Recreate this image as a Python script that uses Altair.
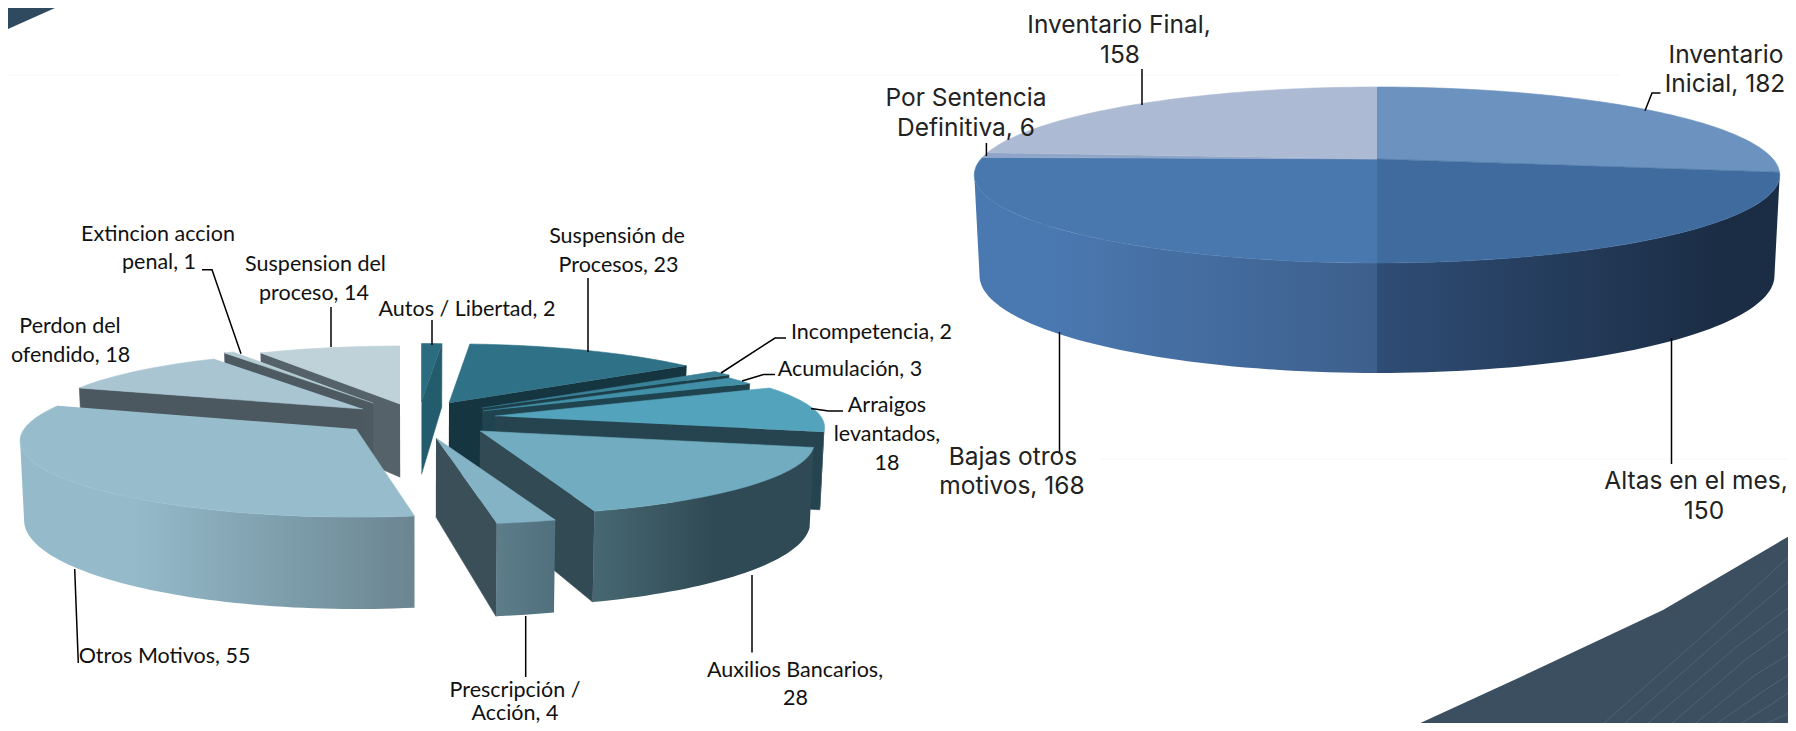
import numpy as np
import pandas as pd
import altair as alt

# ---- data ----
left_names = ["Autos / Libertad", "Suspensión de Procesos", "Incompetencia", "Acumulación",
              "Arraigos levantados", "Auxilios Bancarios", "Prescripción / Acción",
              "Otros Motivos", "Perdon del ofendido", "Extincion accion penal", "Suspension del proceso"]
left_values = [2, 23, 2, 3, 18, 28, 4, 55, 18, 1, 14]
left_top = ["#2b6c80", "#2f7287", "#3a8097", "#428fa8", "#54a3bc", "#72acc1", "#85b3c6",
            "#97bccc", "#a8c5d1", "#b5ccd5", "#bfd1d9"]
left_wall = ["#235d6d", "#153541", "#1d3f4a", "#1f4450", "#25444f", "#324a54", "#3b4f58",
             "#4b5860", "#4b5860", "#4d5a61", "#55626a"]
left_rim = [["#235d6d", "#235d6d"], ["#153541", "#153541"], ["#1d3f4a", "#1d3f4a"], ["#1f4450", "#1f4450"],
            ["#1f4653", "#1f4653"], ["#476872", "#304a55"], ["#5e7d8b", "#50707e"],
            ["#95bbcb", "#6b8591"], ["#4b5860", "#4b5860"], ["#4d5a61", "#4d5a61"], ["#55626a", "#55626a"]]
left_rim_stops = [[0, 1]] * 5 + [[0, 0.55], [0, 1], [0.28, 1]] + [[0, 1]] * 3
left_apex = [(421.5, 401.5), (449, 403), (482, 408), (483, 411), (495, 416), (480, 431), (436, 438),
             (356, 429), (363, 409), (373, 403), (400, 404)]
left_scale = [1, 1.02, 1, 1, 1.03, 1.045, 1.09, 1.05, 1, 1, 1]
left_scale_y = [1, 1.02, 1, 1, 1.03, 1.065, 1.09, 1.11, 1, 1, 1]
left_order = [0, 10, 9, 8, 7, 1, 2, 3, 4, 5, 6]

right_names = ["Inventario Inicial", "Altas en el mes", "Bajas otros motivos",
               "Por Sentencia Definitiva", "Inventario Final"]
right_values = [182, 150, 168, 6, 158]
right_top = ["#6c92bf", "#406b9e", "#4878ae", "#8ea5c8", "#adbad3"]
right_rim = [["#1c2f47", "#1c2f47"], ["#2f4d75", "#1b2d45"], ["#4a78b0", "#3d5f8c"],
             ["#4a78b0", "#4a78b0"], ["#4a78b0", "#4a78b0"]]

calibri_lines = [
    ("Extincion accion", 158, 240.5), ("penal, 1", 159, 269),
    ("Suspension del", 315.5, 270.5), ("proceso, 14", 314, 300),
    ("Autos / Libertad, 2", 467, 316),
    ("Perdon del", 70, 332.5), ("ofendido, 18", 70.5, 362),
    ("Suspensión de", 617, 243), ("Procesos, 23", 618.5, 272),
    ("Incompetencia, 2", 871.5, 339), ("Acumulación, 3", 850, 376),
    ("Arraigos", 887, 412), ("levantados,", 887, 441), ("18", 887, 469.5),
    ("Auxilios Bancarios,", 795, 677), ("28", 795.5, 705),
    ("Prescripción /", 515, 697), ("Acción, 4", 515, 719.5),
    ("Otros Motivos, 55", 164.5, 663),
]
gothic_lines = [
    ("Inventario Final,", 1119, 33), ("158", 1120, 63),
    ("Inventario", 1726, 63), ("Inicial, 182", 1725, 92),
    ("Por Sentencia", 966, 106), ("Definitiva, 6", 966, 136),
    ("Bajas otros", 1013, 465), ("motivos, 168", 1012, 494),
    ("Altas en el mes,", 1696, 489), ("150", 1704, 519),
]
leaders = [
    [(202, 269.7), (212, 269.7), (241, 353.7)], [(331, 307), (331, 347)], [(432, 320), (432, 345)],
    [(588, 278), (588, 352)], [(786, 338), (775, 338), (721, 373)],
    [(775, 374.5), (763.5, 374.5), (742, 381)], [(843, 411), (828.6, 411), (811, 408.5)],
    [(752, 575), (752, 652.5)], [(525.7, 616), (525.7, 677)], [(74.7, 569), (78.3, 663)],
    [(1142, 69), (1142, 105)], [(1660.5, 93), (1652, 93), (1645, 110.7)],
    [(986.4, 143), (986.4, 156)], [(1059.5, 332), (1059.5, 452)], [(1671.5, 338), (1671.5, 464)],
]
swoosh_tl = [(8, 8), (55, 8), (8, 29)]
swoosh_br = [(1403, 731), (1529, 673), (1663, 610), (1796, 532), (1796, 731)]
stripes = [
    [(1595, 731), (1709, 630), (1796, 550)],
    [(1616, 731), (1725, 635), (1796, 575)],
    [(1639, 731), (1735, 648), (1796, 602)],
    [(1663, 731), (1745, 660), (1796, 623)],
    [(1686, 731), (1755, 675), (1796, 650)],
    [(1706, 731), (1765, 690), (1796, 670)],
    [(1729, 731), (1775, 702), (1796, 687)],
    [(1749, 731), (1785, 715), (1796, 707)],
]
faint = [[(8, 75), (1620, 75)], [(1100, 459), (1796, 459)]]

# ---- scales map picture pixels straight onto the plot area ----
X = alt.X("x:Q", axis=None, scale=alt.Scale(domain=[8, 1788], range=[0, 1780]))
Y = alt.Y("y:Q", axis=None, scale=alt.Scale(domain=[8, 723], range=[0, 715]))
layers = []


def poly(points, fill, stroke=None):
    df = pd.DataFrame(points, columns=["x", "y"])
    df["i"] = range(len(df))
    layers.append(alt.Chart(df).mark_line(
        fill=fill, stroke=stroke or "transparent", strokeWidth=0.6 if stroke else 0, interpolate="linear"
    ).encode(x=X, y=Y, order="i:Q"))


def line(points, color, width):
    df = pd.DataFrame(points, columns=["x", "y"])
    df["i"] = range(len(df))
    layers.append(alt.Chart(df).mark_line(stroke=color, strokeWidth=width).encode(x=X, y=Y, order="i:Q"))


def grad(colors, stops):
    if colors[0] == colors[1]:
        return colors[0]
    return {"gradient": "linear", "x1": 0, "y1": 0, "x2": 1, "y2": 0,
            "stops": [{"offset": s, "color": c} for s, c in zip(stops, colors)]}


class Pie:
    def __init__(self, rx, ry, k, d0, d_y0, d_slope, cx, shrink):
        self.rx, self.ry, self.k = rx, ry, k
        self.d0, self.d_y0, self.d_slope = d0, d_y0, d_slope
        self.cx, self.shrink = cx, shrink
        self.tmin = np.degrees(np.arccos(-k))

    def rim(self, t, apex, s=(1, 1)):
        r = np.radians(t)
        a, b = np.sin(r), np.cos(r)
        w = 1 + self.k * b
        return (apex[0] + self.rx * s[0] * a / w, apex[1] - self.ry * s[1] * b / w)

    def down(self, p):
        return (self.cx + (p[0] - self.cx) * self.shrink, p[1] + self.d0 + (p[1] - self.d_y0) * self.d_slope)

    def arc(self, a, b, apex, s=(1, 1)):
        n = max(3, int(abs(b - a) / 1.5) + 2)
        return [self.rim(t, apex, s) for t in np.linspace(a, b, n)]

    def radial(self, t, apex, s, fill):
        p = self.rim(t, apex, s)
        poly([apex, p, self.down(p), self.down(apex)], fill, fill)

    def outer(self, a, b, apex, s, fill, solid):
        a, b = max(a, self.tmin), min(b, 360 - self.tmin)
        if b <= a:
            return
        pts = self.arc(a, b, apex, s)
        poly(pts + [self.down(p) for p in pts[::-1]], fill, solid)

    def top(self, a, b, apex, s, fill):
        poly([apex] + self.arc(a, b, apex, s), fill, fill)


for f in faint:
    line(f, "#fbfbfb", 2)
poly(swoosh_tl, "#2f4a5f")
poly(swoosh_br, "#3b4f60")
for st in stripes:
    line(st, "#4f6374", 1)

# left pie
lp = Pie(316, 67, 0.156, 63, 342, 0.165, 420, 0.99)
edges = np.cumsum([0] + left_values) / sum(left_values) * 360
for i in left_order:
    a, b = edges[i], edges[i + 1]
    ap, s = left_apex[i], (left_scale[i], left_scale_y[i])
    if a >= 180:
        lp.radial(a, ap, s, left_wall[i])
    if b <= 180:
        lp.radial(b, ap, s, left_wall[i])
    lp.outer(a, b, ap, s, grad(left_rim[i], left_rim_stops[i]), None)
    lp.top(a, b, ap, s, left_top[i])

# right pie
rp = Pie(396, 85.1, 0.1818, 100, 170, 0.107, 1377, 0.987)
centre = (1377, 159)
edges = np.cumsum([0] + right_values) / sum(right_values) * 360
for i in range(len(right_values)):
    rp.outer(edges[i], edges[i + 1], centre, (1, 1),
             grad(right_rim[i], [0, 0.85] if i == 1 else [0.2, 1] if i == 2 else [0, 1]), None)
for i in range(len(right_values)):
    rp.top(edges[i], edges[i + 1], centre, (1, 1), right_top[i])

for l in leaders:
    line(l, "#000000", 1.5)


def texts(rows, font, size, color):
    df = pd.DataFrame(rows, columns=["t", "x", "y"])
    layers.append(alt.Chart(df).mark_text(font=font, fontSize=size, color=color, align="center",
                                          baseline="alphabetic").encode(x=X, y=Y, text="t:N"))


texts(calibri_lines, "Lato", 21.5, "#111111")
texts(gothic_lines, "Inter", 24.5, "#222222")

chart = alt.layer(*layers).properties(
    width=1780, height=715, padding=0, background="white",
    autosize=alt.AutoSizeParams(type="none", contains="padding"),
).configure_view(stroke=None)
chart.save("out.html", embed_options={"renderer": "svg", "actions": False})
